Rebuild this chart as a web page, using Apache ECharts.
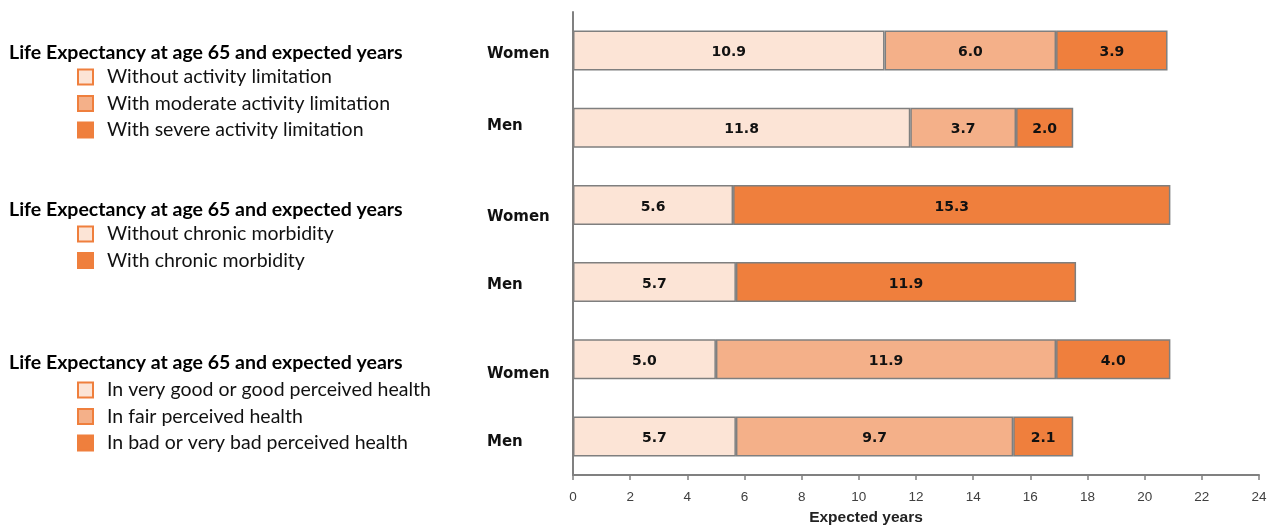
<!DOCTYPE html>
<html>
<head>
<meta charset="utf-8">
<script src="https://cdn.jsdelivr.net/npm/echarts@6/dist/echarts.min.js"></script>
<style>
html,body{margin:0;padding:0;background:#fff;}
#chart{width:1267px;height:526px;}
</style>
</head>
<body>
<div id="chart"></div>
<script>
// ---- data ----
const categories = ['Women', 'Men', 'Women', 'Men', 'Women', 'Men'];
const groupTitle = 'Life Expectancy at age 65 and expected years';

const actNames = ['Without activity limitation', 'With moderate activity limitation', 'With severe activity limitation'];
const actWithout  = [10.9, 11.8, '-', '-', '-', '-'];
const actModerate = [6.0, 3.7, '-', '-', '-', '-'];
const actSevere   = [3.9, 2.0, '-', '-', '-', '-'];

const chrNames = ['Without chronic morbidity', 'With chronic morbidity'];
const chrWithout = ['-', '-', 5.6, 5.7, '-', '-'];
const chrWith    = ['-', '-', 15.3, 11.9, '-', '-'];

const hlthNames = ['In very good or good perceived health', 'In fair perceived health', 'In bad or very bad perceived health'];
const hlthGood = ['-', '-', '-', '-', 5.0, 5.7];
const hlthFair = ['-', '-', '-', '-', 11.9, 9.7];
const hlthBad  = ['-', '-', '-', '-', 4.0, 2.1];

const xTicks = { min: 0, max: 24, interval: 2 };
const xName = 'Expected years';

// ---- styles ----
const cLight = '#FCE4D6', cMid = '#F4B089', cDark = '#EF7F3D';
const borderGrey = '#7F7F7F';
const labelOffsets = [4, -1.5, 12, 3, 15, 5.5];

function mk(name, data, color) {
  return {
    name, type: 'bar', stack: 'all', data, barWidth: 40,
    itemStyle: { color, borderColor: borderGrey, borderWidth: 1.5 },
    label: {
      show: true, position: 'inside', offset: [0, 2],
      formatter: p => Number(p.value).toFixed(1),
      color: '#111', fontFamily: 'DejaVu Sans', fontWeight: 'bold', fontSize: 14
    },
    emphasis: { disabled: true },
    animation: false
  };
}

const series = [
  mk(actNames[0], actWithout, cLight),
  mk(actNames[1], actModerate, cMid),
  mk(actNames[2], actSevere, cDark),
  mk(chrNames[0], chrWithout, cLight),
  mk(chrNames[1], chrWith, cDark),
  mk(hlthNames[0], hlthGood, cLight),
  mk(hlthNames[1], hlthFair, cMid),
  mk(hlthNames[2], hlthBad, cDark)
];

function legend(data, top) {
  return {
    data, orient: 'vertical', left: 77, top, padding: 0,
    icon: 'rect', itemWidth: 15, itemHeight: 15, itemGap: 6.5,
    itemStyle: { borderColor: '#EF7F3D', borderWidth: 2 },
    textStyle: { fontFamily: 'Lato', fontSize: 19.5, color: '#111', padding: [0, 0, 0, 9] },
    selectedMode: false
  };
}
function title(top) {
  return { text: groupTitle, left: 9, top, padding: 0,
    textStyle: { fontFamily: 'Lato', fontWeight: 'bold', fontSize: 19.5, color: '#000' } };
}

const rich = {};
labelOffsets.forEach((d, i) => {
  rich['r' + i] = {
    fontFamily: 'DejaVu Sans', fontWeight: 'bold', fontSize: 15, color: '#111',
    padding: d >= 0 ? [2 * d, 0, 0, 0] : [0, 0, -2 * d, 0]
  };
});

const option = {
  backgroundColor: '#fff',
  animation: false,
  title: [title(43), title(200), title(353)],
  legend: [legend(actNames, 67), legend(chrNames, 224), legend(hlthNames, 380)],
  grid: { left: 573, right: 8, top: 12, height: 463, containLabel: false, outerBoundsMode: 'none' },
  xAxis: {
    type: 'value', min: xTicks.min, max: xTicks.max, interval: xTicks.interval,
    name: xName, nameLocation: 'middle', nameGap: 35,
    nameTextStyle: { fontFamily: 'Liberation Sans', fontWeight: 'bold', fontSize: 15.5, color: '#222', padding: [0, 100, 0, 0] },
    axisLine: { show: true, lineStyle: { color: '#808080', width: 2 } },
    axisTick: { show: true, length: 5, lineStyle: { color: '#808080', width: 1.5 } },
    axisLabel: { margin: 15, fontFamily: 'Liberation Sans', fontSize: 13.5, color: '#404040' },
    splitLine: { show: false }
  },
  yAxis: {
    type: 'category', data: categories, inverse: true,
    axisLine: { show: true, lineStyle: { color: '#808080', width: 2 } },
    axisTick: { show: false },
    axisLabel: {
      align: 'left', margin: 86,
      formatter: (v, i) => '{r' + i + '|' + v + '}',
      rich
    }
  },
  series
};

const chart = echarts.init(document.getElementById('chart'), null, { renderer: 'canvas' });
chart.setOption(option);
</script>
</body>
</html>
